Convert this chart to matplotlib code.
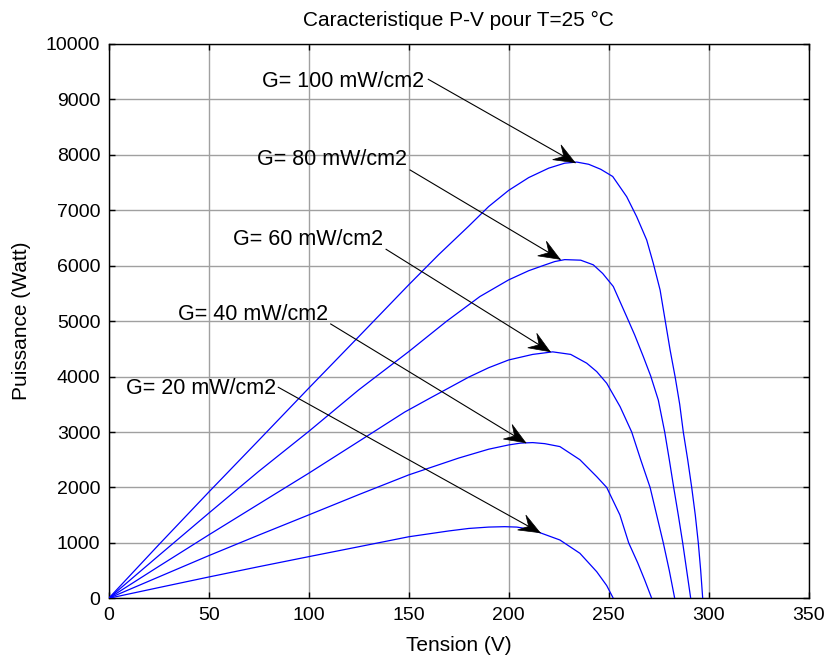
import matplotlib
matplotlib.use("Agg")
import matplotlib.pyplot as plt
import numpy as np
from matplotlib.patches import Polygon
from matplotlib.transforms import IdentityTransform

plt.rcParams["font.family"] = ["Liberation Sans", "DejaVu Sans"]

# P-V curves, one per irradiance level
v_100 = [0, 25, 50, 75, 100, 125, 150, 165, 180, 190, 200, 210, 220, 228, 234, 240, 246,
         252, 259, 264, 269, 272.3, 275.7, 278.2, 280.7, 283.2, 285.5, 287.3, 289.5,
         291.5, 293.3, 294.8, 296, 297]
p_100 = [0, 965, 1915, 2850, 3790, 4720, 5655, 6200, 6714, 7068, 7360, 7590, 7760, 7850, 7870, 7830, 7740,
         7610, 7245, 6884, 6464, 6043, 5562, 5021, 4480, 3998, 3500, 3000, 2500,
         2000, 1500, 1000, 500, 0]

v_80 = [0, 25, 50, 75, 100, 125, 150, 169, 185.6, 200, 210, 217, 223, 228, 236, 242.3,
        247, 252.3, 259, 263, 267.3, 271, 274.8, 278, 280.3, 282.5, 284.8, 287, 289, 291]
p_80 = [0, 770, 1535, 2290, 3010, 3760, 4450, 5000, 5444, 5745, 5910, 6000, 6075, 6110, 6100, 6016,
        5860, 5625, 5080, 4750, 4361, 4010, 3577, 3000, 2500, 2000, 1500, 1000, 500, 0]

v_60 = [0, 25, 50, 75, 100, 125, 148, 160.6, 180, 190, 200, 212, 222, 231, 239, 244, 249,
        255.7, 261.5, 266, 270.7, 274, 277.3, 280.3, 283]
p_60 = [0, 575, 1143, 1700, 2256, 2830, 3360, 3610, 3990, 4160, 4300, 4400, 4446, 4400, 4242, 4090, 3880,
        3457, 3000, 2500, 2000, 1500, 1000, 500, 0]

v_40 = [0, 25, 50, 75, 100, 125, 150, 175, 190, 200, 206, 212, 218, 225.6, 235.6, 244, 249,
        255.6, 260, 264.5, 268, 271.5]
p_40 = [0, 385, 769, 1140, 1504, 1870, 2226, 2530, 2690, 2767, 2800, 2809, 2790, 2737, 2500, 2195, 2000,
        1504, 1000, 640, 330, 0]

v_20 = [0, 25, 50, 75, 100, 125, 150, 170, 180, 190, 198, 204, 210, 215.6, 225.6, 235.6, 244, 249, 252.3]
p_20 = [0, 193, 384, 570, 751, 930, 1110, 1215, 1260, 1285, 1292, 1285, 1250, 1184, 1052, 812, 480, 230, 0]

curves = [(v_100, p_100), (v_80, p_80), (v_60, p_60), (v_40, p_40), (v_20, p_20)]

labels = ["G= 100 mW/cm2", "G= 80 mW/cm2", "G= 60 mW/cm2", "G= 40 mW/cm2", "G= 20 mW/cm2"]
# arrow tips (on the curves), arrow tails and text anchors (right end, baseline)
tips = [(233.2, 7859), (225.7, 6116), (220.7, 4449), (208.5, 2807), (215.7, 1183)]
tails = [(159.8, 9363), (150.7, 7727), (138.7, 6296), (111.0, 4949), (84.8, 3807)]
text_pos = [(157.7, 9219), (149.0, 7812), (137.3, 6368), (109.5, 5015), (83.5, 3680)]

x_ticks = np.arange(0, 351, 50)
y_ticks = np.arange(0, 10001, 1000)


def draw_arrow(ax, tail, tip):
    ax.plot([tail[0], tip[0]], [tail[1], tip[1]], color="black", lw=0.8, zorder=4)
    t0 = ax.transData.transform(tail)
    t1 = ax.transData.transform(tip)
    d = (t1 - t0) / np.hypot(*(t1 - t0))
    n = np.array([-d[1], d[0]])
    length, half_w, notch = 21, 8.5, 13
    pts = [t1, t1 - length * d + half_w * n, t1 - notch * d, t1 - length * d - half_w * n]
    ax.add_patch(Polygon(pts, closed=True, transform=IdentityTransform(),
                         facecolor="black", edgecolor="black", lw=0.5, zorder=5))


fig = plt.figure(figsize=(8.31, 6.58), dpi=100)
ax = fig.add_axes([108.7 / 831, 1 - 598.3 / 658, 700 / 831, 554.3 / 658])

for v, p in curves:
    ax.plot(v, p, color="#0000ff", lw=0.9, zorder=3)

ax.set_xlim(0, 350)
ax.set_ylim(0, 10000)
ax.set_xticks(x_ticks)
ax.set_yticks(y_ticks)
ax.grid(True, color="#a0a0a0", lw=1.0)
ax.set_axisbelow(True)
ax.tick_params(direction="in", top=True, right=True, length=4, width=1,
               labelsize=14, pad=6)
for s in ax.spines.values():
    s.set_linewidth(1.0)

for label, tip, tail, pos in zip(labels, tips, tails, text_pos):
    ax.text(pos[0], pos[1], label, ha="right", va="baseline", fontsize=15.5, zorder=6)
    draw_arrow(ax, tail, tip)

ax.set_title("Caracteristique P-V pour T=25 °C", fontsize=15, pad=13)
ax.set_xlabel("Tension (V)", fontsize=15, labelpad=9)
ax.set_ylabel("Puissance (Watt)", fontsize=15, labelpad=11)

fig.savefig("out.png", dpi=100)
